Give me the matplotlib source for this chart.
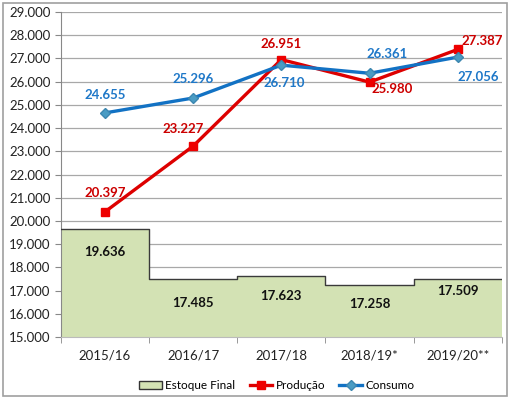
import matplotlib.pyplot as plt
import matplotlib.patches as patches
from matplotlib.ticker import FuncFormatter

plt.rcParams['font.family'] = ['Lato', 'DejaVu Sans']

safras = ["2015/16", "2016/17", "2017/18", "2018/19*", "2019/20**"]
estoque = [19636, 17485, 17623, 17258, 17509]
producao = [20397, 23227, 26951, 25980, 27387]
consumo = [24655, 25296, 26710, 26361, 27056]

def br(v):
    return f"{v:,.0f}".replace(",", ".")

fig = plt.figure(figsize=(5.12, 3.99), dpi=100)
ax = fig.add_axes([0.119, 0.155, 0.861, 0.815])

x = list(range(len(safras)))
ax.bar(x, [e - 15000 for e in estoque], bottom=15000, width=1.0, color='#d3e2b4', edgecolor='none', zorder=2)
ax.step([-0.5] + x + [4.5], [estoque[0]] + estoque + [estoque[-1]], where='mid', color='#3a3a3a', lw=1.0, zorder=3)

ax.plot(x, producao, color='#dd0000', lw=2.4, marker='s', ms=6, mfc='#ee0000', mec='#ee0000', zorder=5, label='Produção')
ax.plot(x, consumo, color='#1272c4', lw=2.4, marker='D', ms=5, mfc='#4a9cc4', mec='#3d87b0', zorder=6, label='Consumo')

# label offsets (points)
prod_off = [(0, 13.5), (-7, 12), (0, 11.5), (16, -5), (18, 6)]
cons_off = [(0, 13), (0, 14), (2, -13), (13, 14), (15, -14)]
for i in x:
    ax.annotate(br(producao[i]), (i, producao[i]), xytext=prod_off[i], textcoords='offset points',
                ha='center', va='center', color='#cc0000', fontsize=9.5, fontweight='bold', zorder=8)
    ax.annotate(br(consumo[i]), (i, consumo[i]), xytext=cons_off[i], textcoords='offset points',
                ha='center', va='center', color='#1f78c8', fontsize=9.5, fontweight='bold', zorder=8)

est_off = [-16, -17, -14, -14, -9]
for i in x:
    ax.annotate(br(estoque[i]), (i, estoque[i]), xytext=(0, est_off[i]), textcoords='offset points',
                ha='center', va='center', color='#111111', fontsize=9.5, fontweight='bold', zorder=8)

ax.set_xlim(-0.5, 4.5)
ax.set_ylim(15000, 29000)
ax.set_yticks(range(15000, 29001, 1000))
ax.yaxis.set_major_formatter(FuncFormatter(lambda v, p: br(v)))
ax.set_xticks(x)
ax.set_xticklabels(safras)
ax.set_xticks([i - 0.5 for i in range(6)], minor=True)
ax.tick_params(axis='x', which='major', length=0, pad=9, labelsize=9.5, colors='#222222')
ax.tick_params(axis='x', which='minor', length=4, color='#888888')
ax.tick_params(axis='y', length=4, color='#888888', labelsize=9.5, labelcolor='#222222')
ax.grid(axis='y', color='#a8a8a8', lw=0.9, zorder=0)
ax.set_axisbelow(True)
for s in ['top', 'right']:
    ax.spines[s].set_visible(False)
ax.spines['left'].set_color('#888888')
ax.spines['bottom'].set_color('#bbbbbb')

handles = [patches.Patch(facecolor='#d3e2b4', edgecolor='#333333', label='Estoque Final')]
h, l = ax.get_legend_handles_labels()
ax.legend(handles + h, ['Estoque Final'] + l, loc='upper center', bbox_to_anchor=(0.49, -0.10),
          ncol=3, frameon=False, fontsize=8.5, handlelength=1.9, columnspacing=1.2, handletextpad=0.3)

fig.add_artist(patches.Rectangle((0.006, 0.008), 0.984, 0.984, transform=fig.transFigure,
                                 fill=False, edgecolor='#a0a0a0', lw=1.2))

fig.savefig('out.png', dpi=100)
